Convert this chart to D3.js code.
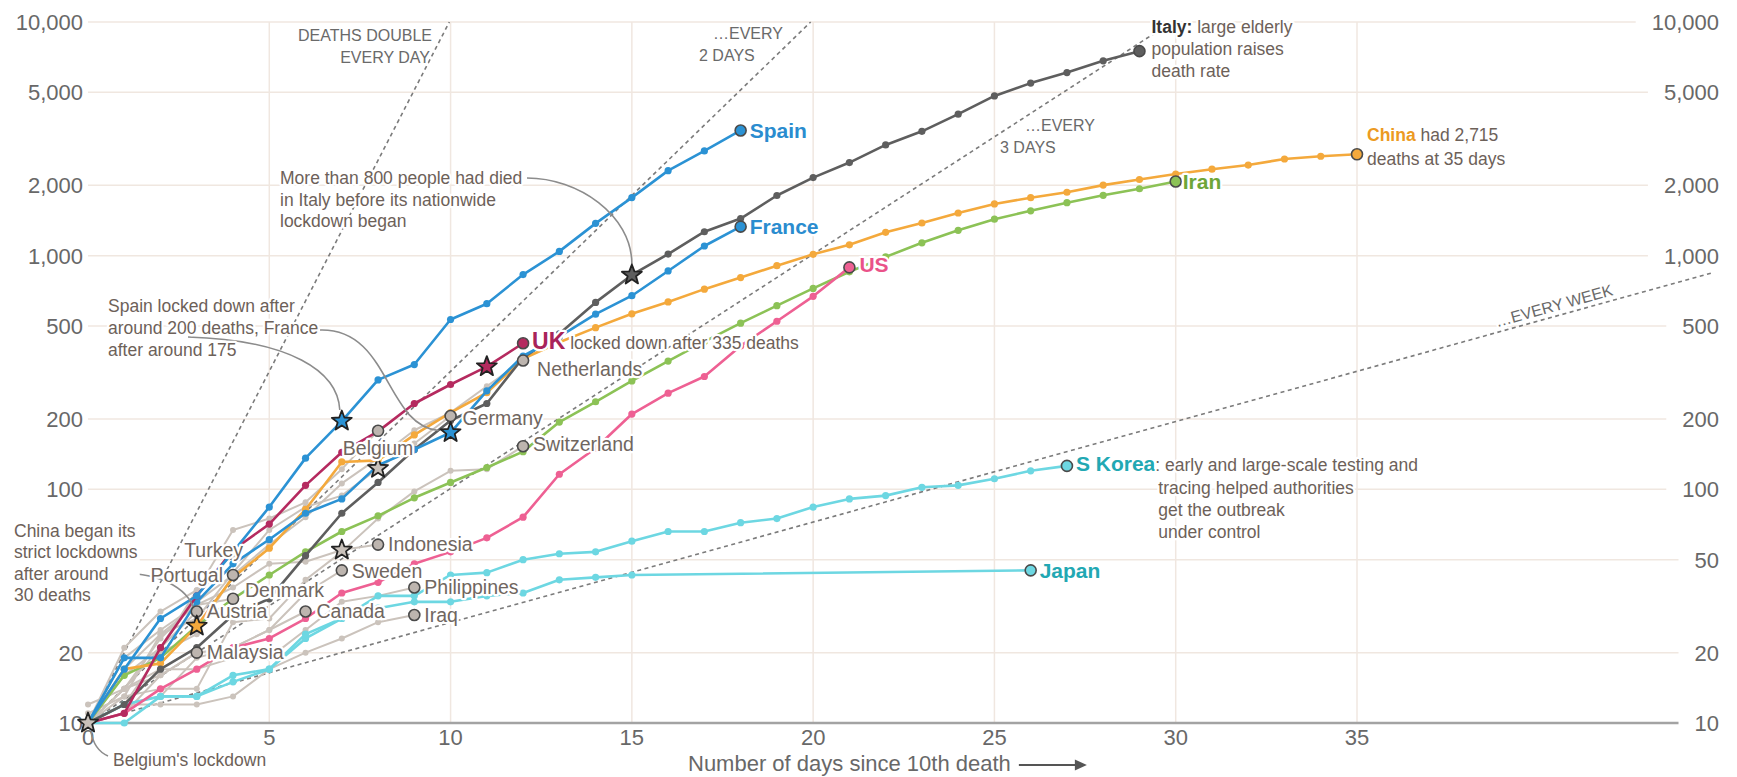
<!DOCTYPE html>
<html>
<head>
  <meta charset="UTF-8">
  <title>Coronavirus deaths by days since the 10th death</title>
  <style>
    body { margin: 0; background: #fff; }
    svg { display: block; font-family: "Liberation Sans", Arial, sans-serif; }
    .grid { stroke: #f0e7e0; stroke-width: 1.5; }
    .tick { fill: #686868; font-size: 22px; }
    .guide { fill: none; stroke: #7b7b7b; stroke-width: 1.6; stroke-dasharray: 4 3.5; }
    .guide-label { fill: #6a6a6a; font-size: 16px; }
    .note { fill: #6d6159; font-size: 17.5px; }
    .halo { paint-order: stroke; stroke: #fff; stroke-width: 4.5px; stroke-linejoin: round; }
    .grey-label { fill: #706660; font-size: 19.5px; }
    .key-label { font-size: 21px; font-weight: bold; }
    .connector { fill: none; stroke: #8c8c8c; stroke-width: 1.6; }
  </style>
</head>
<body>
  <svg width="1737" height="777"></svg>
  <script src="https://d3js.org/d3.v7.min.js"></script>
  <script>
    // cumulative deaths, one value per day since the 10th death (day 0 first)
    const spain = [10, 17, 28, 35, 54, 84, 136, 196, 294, 342, 533, 623, 830, 1043, 1375, 1772, 2311, 2808, 3434];
    const france = [10, 19, 19, 33, 48, 61, 79, 91, 127, 148, 175, 264, 372, 450, 562, 674, 860, 1100, 1331];
    const italy = [10, 12, 17, 21, 29, 34, 52, 79, 107, 148, 197, 233, 366, 463, 631, 827, 1016, 1266, 1441, 1809,
                   2158, 2503, 2978, 3405, 4032, 4825, 5476, 6077, 6820, 7503];
    const china = [10, 17, 18, 26, 42, 56, 82, 131, 133, 171, 213, 259, 362, 426, 492, 564, 634, 719, 806, 906,
                   1013, 1113, 1259, 1380, 1523, 1665, 1770, 1868, 2004, 2118, 2236, 2345, 2442, 2592, 2663, 2715];
    const iran = [10, 16, 19, 26, 34, 43, 54, 66, 77, 92, 107, 124, 145, 194, 237, 291, 354, 429, 514, 611,
                  724, 853, 988, 1135, 1284, 1433, 1556, 1685, 1812, 1934, 2077];
    const us = [10, 11, 14, 17, 21, 23, 28, 36, 40, 48, 54, 62, 76, 116, 150, 210, 258, 304, 411, 524, 670, 891];
    const uk = [10, 11, 21, 35, 55, 71, 104, 144, 177, 233, 281, 335, 422];
    const skorea = [10, 12, 13, 13, 16, 17, 23, 28, 35, 35, 43, 44, 50, 53, 54, 60, 66, 66, 72, 75,
                    84, 91, 94, 102, 104, 111, 120, 126];
    // Japan has no points between day 15 and day 26
    const japan = [10, 10, 13, 13, 15, 17, 24, 28, 31, 33, 33, 35, 36, 41, 42, 43,
                   null, null, null, null, null, null, null, null, null, null, 45];

    const netherlands = [10, 12, 20, 24, 43, 58, 76, 106, 136, 179, 213, 276, 356];
    const germany = [10, 17, 24, 28, 44, 67, 84, 94, 123, 157, 206];
    const belgium = [10, 14, 21, 37, 67, 75, 88, 122, 178];
    const switzerland = [11, 13, 14, 14, 27, 28, 41, 54, 75, 98, 120, 122, 153];
    const indonesia = [10, 19, 25, 32, 38, 48, 49, 55, 58];
    const sweden = [10, 11, 16, 20, 21, 25, 36, 45];
    const philippines = [12, 14, 17, 17, 19, 19, 25, 33, 35, 38];
    const iraq = [10, 12, 12, 12, 13, 17, 20, 23, 27, 29];
    const canada = [10, 12, 13, 19, 21, 25, 30];
    const malaysia = [10, 14, 16, 20];
    const austria = [10, 16, 21, 30];
    const denmark = [10, 13, 24, 32, 34];
    const portugal = [10, 14, 23, 33, 43];
    const turkey = [10, 21, 30, 37, 53];

    const xTicks = [0, 5, 10, 15, 20, 25, 30, 35];
    const yTicks = [10, 20, 50, 100, 200, 500, 1000, 2000, 5000, 10000];
    // the left-hand 50 sits under the China note
    const leftTicks = [10, 20, 100, 200, 500, 1000, 2000, 5000, 10000];
    const doublingDays = [1, 2, 3, 7];
    // [country, day of lockdown]
    const lockdowns = [["Belgium", 0], ["China", 3], ["Spain", 7], ["Indonesia", 7], ["Germany", 8],
                       ["France", 10], ["UK", 11], ["Italy", 15]];

    const greySeries = [["Netherlands", netherlands], ["Germany", germany], ["Belgium", belgium],
      ["Switzerland", switzerland], ["Indonesia", indonesia], ["Sweden", sweden], ["Philippines", philippines],
      ["Iraq", iraq], ["Canada", canada], ["Malaysia", malaysia], ["Austria", austria], ["Denmark", denmark],
      ["Portugal", portugal], ["Turkey", turkey]];
    const colourSeries = [["S Korea", skorea], ["Japan", japan], ["Iran", iran], ["China", china], ["US", us],
      ["Italy", italy], ["France", france], ["UK", uk], ["Spain", spain]];

    const colours = { Spain: "#2b92d4", France: "#2b92d4", Italy: "#5e5e5e", China: "#f4a93c", Iran: "#8cc256",
                      US: "#ee6093", UK: "#b52a5f", "S Korea": "#6dd7e2", Japan: "#6dd7e2" };
    const labelColours = { Spain: "#2a8ccf", France: "#2a8ccf", Iran: "#6ea638", US: "#ea5289", UK: "#a8245a",
                           "S Korea": "#22a8b3", Japan: "#22a8b3", China: "#ec9a22", Italy: "#333" };
    const greyLine = "#cbc3bc", greyDot = "#bdb5af";

    // grey label placement: dx, dy, anchor
    const greyLabelPos = { Netherlands: [14, 9, "start"], Germany: [12, 2, "start"], Belgium: [0, 17, "middle"],
      Switzerland: [10, -2, "start"], Indonesia: [10, 0, "start"], Sweden: [10, 1, "start"],
      Philippines: [10, 0, "start"], Iraq: [10, 0, "start"], Canada: [11, 0, "start"], Malaysia: [10, 0, "start"],
      Austria: [10, 0, "start"], Denmark: [12, -9, "start"], Portugal: [-10, 0, "end"], Turkey: [10, -4, "end"] };

    let width = 1737, height = 777;
    let svg = d3.select("svg").attr("viewBox", "0 0 " + width + " " + height);
    let x = d3.scaleLinear().domain([0, 35]).range([88, 1357]);
    let y = d3.scaleLog().domain([10, 10000]).range([723, 22]);
    let fmt = d3.format(",");

    let layers = {};
    ["grid", "guides", "grey", "colour", "connectors", "markers", "labels"].forEach(k => layers[k] = svg.append("g"));

    // right-hand tick labels first, gridlines stop short of them
    let gridEnd = {};
    layers.grid.selectAll("text.right").data(yTicks).join("text")
        .attr("class", "tick right").attr("x", 1719).attr("y", d => y(d)).attr("dy", "0.36em")
        .attr("text-anchor", "end").text(fmt)
        .each(function(d) { gridEnd[d] = 1719 - this.getComputedTextLength() - 16; });
    layers.grid.selectAll("text.left").data(leftTicks).join("text")
        .attr("class", "tick left").attr("x", 83).attr("y", d => y(d)).attr("dy", "0.36em")
        .attr("text-anchor", "end").text(fmt);
    layers.grid.selectAll("line.h").data(yTicks.slice(1)).join("line")
        .attr("class", "grid").attr("x1", x(0)).attr("x2", d => gridEnd[d]).attr("y1", d => y(d)).attr("y2", d => y(d));
    layers.grid.selectAll("line.v").data(xTicks.slice(1)).join("line")
        .attr("class", "grid").attr("x1", d => x(d)).attr("x2", d => x(d)).attr("y1", y(10)).attr("y2", y(10000));
    layers.grid.append("line")
        .attr("x1", x(0)).attr("x2", gridEnd[10]).attr("y1", y(10)).attr("y2", y(10))
        .attr("stroke", "#a3a3a3").attr("stroke-width", 2.5);
    layers.grid.selectAll("text.x").data(xTicks).join("text")
        .attr("class", "tick x").attr("x", d => x(d)).attr("y", 745).attr("text-anchor", "middle").text(d => d);

    // axis title with arrow
    let title = layers.grid.append("text").attr("class", "tick").attr("x", 688).attr("y", 771)
        .text("Number of days since 10th death");
    let tEnd = 688 + title.node().getComputedTextLength() + 8;
    layers.grid.append("line").attr("x1", tEnd).attr("x2", tEnd + 58).attr("y1", 765).attr("y2", 765)
        .attr("stroke", "#555").attr("stroke-width", 2);
    layers.grid.append("path").attr("d", `M${tEnd + 68},765 L${tEnd + 56},759.5 L${tEnd + 56},770.5 Z`).attr("fill", "#555");

    // doubling-time guides from (0, 10)
    const weekEnd = 44.8;
    doublingDays.forEach(k => {
      let t = Math.min(k * Math.log2(1000), weekEnd);
      layers.guides.append("path").attr("class", "guide")
          .attr("d", d3.line()([[x(0), y(10)], [x(t), y(10 * Math.pow(2, t / k))]]));
    });
    const guideNotes = [
      { anchor: "end", lines: [["DEATHS DOUBLE", 432, 41], ["EVERY DAY", 430, 63]] },
      { anchor: "start", lines: [["\u2026EVERY", 713, 39], ["2 DAYS", 699, 61]] },
      { anchor: "start", lines: [["\u2026EVERY", 1025, 131], ["3 DAYS", 1000, 153]] }
    ];
    guideNotes.forEach(g => g.lines.forEach(l => layers.labels.append("text")
        .attr("class", "guide-label halo").attr("text-anchor", g.anchor).attr("x", l[1]).attr("y", l[2]).text(l[0])));
    {
      let t1 = 38.9, t2 = 40;
      let p1 = [x(t1), y(10 * Math.pow(2, t1 / 7))], p2 = [x(t2), y(10 * Math.pow(2, t2 / 7))];
      let ang = Math.atan2(p2[1] - p1[1], p2[0] - p1[0]) * 180 / Math.PI;
      layers.labels.append("text").attr("class", "guide-label halo")
          .attr("transform", `translate(${p1[0]},${p1[1]}) rotate(${ang})`).attr("dy", -5).text("\u2026EVERY WEEK");
    }

    // series
    let line = d3.line().x(p => x(p.day)).y(p => y(p.v));
    let starPath = (() => {
      let p = [];
      for (let i = 0; i < 10; i++) {
        let a = -Math.PI / 2 + i * Math.PI / 5, r = i % 2 ? 4.4 : 10.5;
        p.push([r * Math.cos(a), r * Math.sin(a)]);
      }
      return "M" + p.join("L") + "Z";
    })();
    let ends = {};

    function drawSeries(name, values, grey) {
      let p = values.map((v, i) => ({ day: i, v: v })).filter(q => q.v != null);
      let col = grey ? greyLine : colours[name];
      let layer = grey ? layers.grey : layers.colour;
      layer.append("path").attr("d", line(p)).attr("fill", "none").attr("stroke", col)
          .attr("stroke-width", grey ? 2 : 2.6).attr("stroke-linejoin", "round");
      let starDays = lockdowns.filter(l => l[0] === name).map(l => l[1]);
      let last = p[p.length - 1];
      layer.selectAll(null).data(p.filter(q => q !== last && !starDays.includes(q.day))).join("circle")
          .attr("cx", q => x(q.day)).attr("cy", q => y(q.v)).attr("r", grey ? 3 : 3.6).attr("fill", col);
      layers.markers.append("circle").attr("cx", x(last.day)).attr("cy", y(last.v)).attr("r", 5.5)
          .attr("fill", grey ? greyDot : col).attr("stroke", "#4a4a4a").attr("stroke-width", 1.6);
      starDays.forEach(d => layers.markers.append("path").attr("d", starPath)
          .attr("transform", `translate(${x(d)},${y(values[d])})`)
          .attr("fill", grey ? "#c9c1ba" : col).attr("stroke", "#222").attr("stroke-width", 1.8)
          .attr("stroke-linejoin", "round"));
      ends[name] = { x: x(last.day), y: y(last.v) };
    }
    greySeries.forEach(s => drawSeries(s[0], s[1], true));
    colourSeries.forEach(s => drawSeries(s[0], s[1], false));

    // grey labels
    greySeries.forEach(s => {
      let e = ends[s[0]], pos = greyLabelPos[s[0]];
      layers.labels.append("text").attr("class", "grey-label halo")
          .attr("x", e.x + pos[0]).attr("y", e.y + pos[1]).attr("dy", "0.35em")
          .attr("text-anchor", pos[2]).text(s[0]);
    });

    // simple coloured labels
    [["Spain", 9, 0], ["France", 9, 0], ["US", 10, -3], ["Iran", 7, 0], ["Japan", 9, 0]].forEach(l => {
      let e = ends[l[0]];
      layers.labels.append("text").attr("class", "key-label halo").attr("fill", labelColours[l[0]])
          .attr("x", e.x + l[1]).attr("y", e.y + l[2]).attr("dy", "0.35em").text(l[0]);
    });

    // UK with its note
    {
      let e = ends.UK;
      let t = layers.labels.append("text").attr("class", "halo").attr("x", e.x + 9).attr("y", e.y).attr("dy", "0.35em");
      t.append("tspan").attr("font-size", "23px").attr("font-weight", "bold").attr("fill", labelColours.UK).text("UK");
      t.append("tspan").attr("class", "note").text(" locked down after 335 deaths");
    }
    // S Korea with its note
    {
      let e = ends["S Korea"];
      let t = layers.labels.append("text").attr("class", "halo").attr("x", e.x + 9).attr("y", e.y).attr("dy", "0.35em");
      let k = t.append("tspan").attr("class", "key-label").attr("fill", labelColours["S Korea"]).text("S Korea");
      t.append("tspan").attr("class", "note").text(": early and large-scale testing and");
      let lx = e.x + 9 + k.node().getComputedTextLength() + 3;
      ["tracing helped authorities", "get the outbreak", "under control"].forEach((s, i) =>
        layers.labels.append("text").attr("class", "note halo").attr("x", lx).attr("y", e.y + 22 * (i + 1))
            .attr("dy", "0.35em").text(s));
    }
    // China end note
    {
      let e = ends.China;
      let t = layers.labels.append("text").attr("class", "note halo").attr("x", e.x + 10).attr("y", e.y - 13);
      t.append("tspan").attr("font-weight", "bold").attr("fill", labelColours.China).text("China");
      t.append("tspan").text(" had 2,715");
      layers.labels.append("text").attr("class", "note halo").attr("x", e.x + 10).attr("y", e.y + 11)
          .text("deaths at 35 days");
    }
    // Italy end note
    {
      let e = ends.Italy;
      let t = layers.labels.append("text").attr("class", "note halo").attr("x", e.x + 12).attr("y", e.y - 18);
      t.append("tspan").attr("font-weight", "bold").attr("fill", labelColours.Italy).text("Italy:");
      t.append("tspan").text(" large elderly");
      ["population raises", "death rate"].forEach((s, i) =>
        layers.labels.append("text").attr("class", "note halo").attr("x", e.x + 12).attr("y", e.y + 4 + 22 * i).text(s));
    }

    // annotations and their connectors
    function note(lines, x0, y0, lh, bg) {
      let g = layers.labels.append("g");
      lines.forEach((s, i) => g.append("text").attr("class", "note halo").attr("x", x0).attr("y", y0 + lh * i).text(s));
      if (bg) {
        let b = g.node().getBBox();
        g.insert("rect", "text").attr("x", b.x - 2).attr("y", b.y - 2).attr("width", b.width + 4)
            .attr("height", b.height + 4).attr("fill", "#fff");
      }
    }
    note(["More than 800 people had died", "in Italy before its nationwide", "lockdown began"], 280, 184, 21.5);
    note(["Spain locked down after", "around 200 deaths, France", "after around 175"], 108, 312, 22);
    note(["China began its", "strict lockdowns", "after around", "30 deaths"], 14, 537, 21.3, true);
    note(["Belgium's lockdown"], 113, 766, 20);

    let star = (d, data) => [x(d), y(data[d])];
    let it = star(15, italy), sp = star(7, spain), fr = star(10, france), ch = star(3, china), be = star(0, belgium);
    let connectors = [
      `M527,178 C578,178 ${it[0]},${it[1] - 60} ${it[0]},${it[1] - 11}`,
      `M188,337 C290,340 ${sp[0] - 4},${sp[1] - 50} ${sp[0] - 2},${sp[1] - 11}`,
      `M320,330 C390,328 385,${fr[1] - 7} ${fr[0] - 12},${fr[1] - 2}`,
      `M116,573 C165,572 ${ch[0] - 4},${ch[1] - 34} ${ch[0] - 2},${ch[1] - 11}`,
      `M${be[0] + 3},${be[1] + 8} C${be[0] + 5},${be[1] + 22} ${be[0] + 11},${be[1] + 29} ${be[0] + 20},${be[1] + 33}`
    ];
    layers.connectors.selectAll("path").data(connectors).join("path").attr("class", "connector").attr("d", d => d);
  </script>
</body>
</html>
